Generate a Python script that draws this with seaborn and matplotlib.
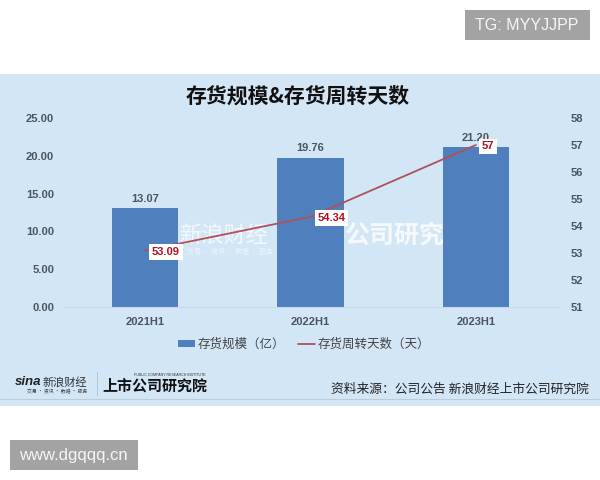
"""
存货规模 & 存货周转天数: 柱状图 + 折线 (双轴)
"""

import matplotlib
matplotlib.use("Agg")
import matplotlib.pyplot as plt
from matplotlib.patches import Rectangle, Patch
from matplotlib.lines import Line2D
import pandas as pd
import seaborn as sns

periodos = ["2021H1", "2022H1", "2023H1"]
inventario = [13.07, 19.76, 21.20]
dias = [53.09, 54.34, 57]
dias_labels = ["53.09", "54.34", "57"]
inventario_labels = ["13.07", "19.76", "21.20"]
yticks_izq = [0, 5, 10, 15, 20, 25]
yticks_der = [51, 52, 53, 54, 55, 56, 57, 58]

AZUL = "#4f7fbc"
ROJO = "#b0505a"
FONDO = "#d3e6f5"
GRIS = "#4a5560"
NUM = ["Liberation Sans", "DejaVu Sans"]
W, H = 600, 480


def fx(px):
    return px / W


def fy(py):
    return 1 - py / H


def caja(fig, x0, y0, x1, y1, color, z=-5):
    fig.add_artist(Rectangle((fx(x0), fy(y1)), (x1 - x0) / W, (y1 - y0) / H,
                             transform=fig.transFigure, facecolor=color,
                             edgecolor="none", zorder=z))


def main():
    sns.set_theme(style="white")
    plt.rcParams["font.family"] = ["Noto Sans CJK SC", "DejaVu Sans"]
    plt.rcParams["axes.unicode_minus"] = False

    fig = plt.figure(figsize=(6, 4.8), dpi=100, facecolor="white")

    # Fondo del panel y recuadros grises
    caja(fig, 0, 74, 600, 406, FONDO)
    caja(fig, 0, 399, 600, 400, "#bccbd6", z=-4)
    caja(fig, 465, 10, 590, 40, "#a3a3a3")
    caja(fig, 10, 440, 138, 470, "#a3a3a3")
    fig.text(fx(527), fy(25.5), "TG: MYYJJPP", color="white", fontsize=11.5,
             ha="center", va="center", family="Liberation Sans", alpha=0.9)
    fig.text(fx(73.5), fy(455.5), "www.dgqqq.cn", color="white", fontsize=12,
             ha="center", va="center", family="Liberation Sans", alpha=0.9)

    # Marca de agua (detrás de las barras)
    fig.text(fx(224), fy(235), "新浪财经", color="white", alpha=0.75, fontsize=16,
             style="italic", ha="center", va="center", zorder=-3)
    fig.text(fx(230), fy(252), "交易 · 资讯 · 数据 · 服务", color="white", alpha=0.6,
             fontsize=5, ha="center", va="center", zorder=-3)
    fig.text(fx(394), fy(236), "公司研究", color="white", alpha=0.8, fontsize=18,
             fontweight="bold", style="italic", ha="center", va="center", zorder=-3)

    ax = fig.add_axes([fx(62.5), fy(307), 496 / W, 189 / H])
    ax.patch.set_alpha(0)
    df = pd.DataFrame({"periodo": periodos, "inventario": inventario, "dias": dias})

    sns.barplot(data=df, x="periodo", y="inventario", color=AZUL, saturation=1,
                width=0.4, edgecolor="none", linewidth=0, ax=ax)
    ax.set_xlim(-0.5, 2.5)
    ax.set_ylim(0, 25)
    ax.set_yticks(yticks_izq)
    ax.set_yticklabels([f"{v:.2f}" for v in yticks_izq])
    ax.set_xlabel("")
    ax.set_ylabel("")
    ax.tick_params(axis="both", length=0, labelsize=8, labelcolor=GRIS)
    ax.tick_params(axis="x", pad=7)
    ax.tick_params(axis="y", pad=6)
    for lab in ax.get_xticklabels() + ax.get_yticklabels():
        lab.set_family(NUM)
        lab.set_fontweight("bold")
    for s in ["top", "left", "right"]:
        ax.spines[s].set_visible(False)
    ax.spines["bottom"].set_color("#c3d8e8")
    ax.spines["bottom"].set_linewidth(0.8)

    for i, (v, t) in enumerate(zip(inventario, inventario_labels)):
        ax.annotate(t, (i, v), xytext=(0, 3), textcoords="offset points",
                    ha="center", va="bottom", fontsize=8, fontweight="bold",
                    color=GRIS, family=NUM)

    # Eje derecho: días de rotación
    ax2 = ax.twinx()
    ax2.patch.set_alpha(0)
    sns.lineplot(data=df, x="periodo", y="dias", color=ROJO, linewidth=1.3,
                 sort=False, legend=False, ax=ax2)
    ax2.set_xlim(-0.5, 2.5)
    ax2.set_ylim(51, 58)
    ax2.set_yticks(yticks_der)
    ax2.set_ylabel("")
    ax2.grid(False)
    ax2.tick_params(axis="y", length=0, labelsize=8, labelcolor=GRIS, pad=9)
    for lab in ax2.get_yticklabels():
        lab.set_family(NUM)
        lab.set_fontweight("bold")
    for s in ax2.spines.values():
        s.set_visible(False)

    desplaz = [(15, -1), (15, -1), (9, -1)]
    for i, (v, t) in enumerate(zip(dias, dias_labels)):
        ax2.annotate(t, (i, v), xytext=desplaz[i], textcoords="offset points",
                     ha="center", va="center", fontsize=8, fontweight="bold",
                     color="#b01020", zorder=10, family=NUM,
                     bbox=dict(boxstyle="square,pad=0.25", facecolor="white",
                               edgecolor="none"))

    fig.text(fx(298), fy(96.5), "存货规模&存货周转天数", fontsize=15, fontweight="bold",
             color="#111111", ha="center", va="center")

    handles = [Patch(facecolor=AZUL, edgecolor="none"),
               Line2D([0], [0], color=ROJO, linewidth=1.3)]
    fig.legend(handles, ["存货规模（亿）", "存货周转天数（天）"], ncol=2, frameon=False,
               loc="center", bbox_to_anchor=(fx(304), fy(344)), fontsize=9,
               labelcolor="#444444", handlelength=1.4, handleheight=0.5,
               handletextpad=0.2, columnspacing=1.0)

    # Pie: logos y fuente
    fig.text(fx(28), fy(382), "sina", fontsize=9.5, fontweight="bold", style="italic",
             color="#222222", ha="center", va="center", family="Liberation Sans")
    fig.text(fx(65), fy(382), "新浪财经", fontsize=8, style="italic", color="#333333",
             ha="center", va="center")
    fig.text(fx(57), fy(391.5), "交易 · 资讯 · 数据 · 服务", fontsize=3.5, color="#444444",
             ha="center", va="center")
    caja(fig, 97, 372, 98, 396, "#b5c5d2", z=-4)
    fig.text(fx(155), fy(386), "上市公司研究院", fontsize=10.8, fontweight="bold",
             style="italic", color="#111111", ha="center", va="center")
    fig.text(fx(170), fy(375.5), "PUBLIC COMPANY RESEARCH INSTITUTE", fontsize=2.6,
             color="#333333", ha="center", va="center", family="Liberation Sans")
    fig.text(fx(589), fy(389.5), "资料来源：公司公告 新浪财经上市公司研究院", fontsize=9.2,
             color="#222222", ha="right", va="center")

    fig.savefig("out.png", dpi=100, facecolor="white")
    plt.close(fig)


if __name__ == "__main__":
    main()
